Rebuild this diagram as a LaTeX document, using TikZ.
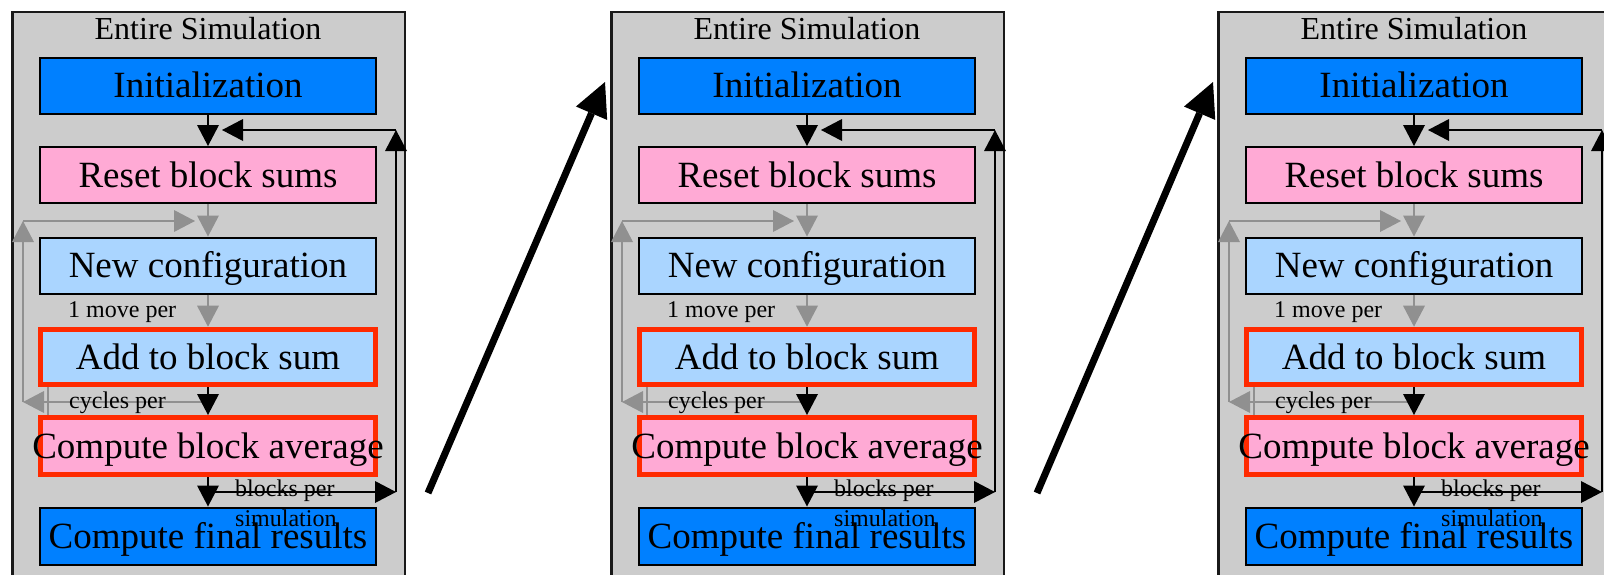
\documentclass[tikz,border=0pt]{standalone}
\usepackage{fontspec}
\setmainfont{Liberation Serif}
\usetikzlibrary{arrows.meta}
\definecolor{simgray}{HTML}{CCCCCC}
\definecolor{darkblue}{HTML}{0080FF}
\definecolor{pinkbox}{HTML}{FFAAD5}
\definecolor{lightblue}{HTML}{AAD5FF}
\definecolor{redframe}{HTML}{FF2A00}
\definecolor{arrowgray}{HTML}{909090}
\tikzset{
  panel/.style={draw=black!90, line width=2.5pt, fill=simgray, minimum width=392.7pt, minimum height=588pt, inner sep=0pt},
  stage/.style={draw=black, line width=2pt, minimum width=336pt, minimum height=56pt, inner sep=0pt,
    font=\fontsize{37}{40}\selectfont, text height=24.5pt, text depth=0pt},
  hot/.style={draw=redframe, line width=5pt, minimum width=335.6pt},
  titletext/.style={inner sep=0pt, font=\fontsize{32}{34}\selectfont},
  lbl/.style={inner sep=0pt, font=\fontsize{24}{26}\selectfont},
  flow/.style={draw=black, line width=2pt, -{Triangle[length=21pt,width=22pt,line width=0pt]}},
  grayflow/.style={draw=arrowgray, line width=2pt, -{Triangle[length=21pt,width=22pt,line width=0pt]}},
  grayline/.style={draw=arrowgray, line width=2pt},
  bigarrow/.style={draw=black, line width=7pt, -{Triangle[length=34pt,width=34pt,line width=0pt]}}
}
\begin{document}
\begin{tikzpicture}[x=1pt,y=-1pt]
\useasboundingbox (0,0) rectangle (1604,574);
\clip (0,0) rectangle (1604,574);
\foreach \p/\ox in {1/0,2/599,3/1206}{
\begin{scope}[xshift=\ox pt]
  \node[panel] (sim\p) at (208.6,306) {};
  \node[titletext, anchor=base] (title\p) at (208,39) {Entire Simulation};
  \node[stage, fill=darkblue] (init\p) at (208,85.5) {Initialization};
  \node[stage, fill=pinkbox] (reset\p) at (208,175) {Reset block sums};
  \node[stage, fill=lightblue] (conf\p) at (208,265.5) {New configuration};
  \node[stage, hot, fill=lightblue, minimum height=55.6pt] (add\p) at (208,357) {Add to block sum};
  \node[stage, hot, fill=pinkbox, minimum height=57pt] (avg\p) at (208,446) {\makebox[0pt]{Compute block average}};
  \node[stage, fill=darkblue, minimum height=57pt] (fin\p) at (208,536) {Compute final results};
  % coordinates of the loops
  \coordinate (gl\p) at (23,402);
  \coordinate (gc\p) at (23,221);
  \coordinate (gin\p) at (195,221);
  \coordinate (gs\p) at (48,387);
  \coordinate (ge\p) at (48,415);
  \coordinate (bs\p) at (215,492);
  \coordinate (be\p) at (396,492);
  \coordinate (lt\p) at (396,130);
  \coordinate (li\p) at (222,130);
  % gray edges
  \draw[grayflow] (reset\p.south) -- (conf\p.north);
  \draw[grayflow] (conf\p.south) -- (add\p.north);
  \draw[grayflow] (add\p.south) |- (gl\p);
  \draw[grayflow] (gl\p) -- (gc\p);
  \draw[grayflow] (gc\p) -- (gin\p);
  \draw[grayline] (gs\p) -- (ge\p);
  % black edges
  \draw[flow] (init\p.south) -- (reset\p.north);
  \draw[flow] (add\p.south) -- (avg\p.north);
  \draw[flow] (avg\p.south) -- (fin\p.north);
  \draw[flow] (bs\p) -- (be\p);
  \draw[flow] (be\p) -- (lt\p);
  \draw[flow] (lt\p) -- (li\p);
  % labels
  \node[lbl, anchor=base west] (mv\p) at (68,317) {1 move per};
  \node[lbl, anchor=base west] (cy\p) at (69,408) {cycles per};
  \node[lbl, anchor=base west] (bl\p) at (235,496) {blocks per};
  \node[lbl, anchor=base west] (sm\p) at (235,526) {simulation};
\end{scope}
}
\coordinate (a1s) at (428,493);
\coordinate (a1e) at (605,82);
\coordinate (a2s) at (1037,493);
\coordinate (a2e) at (1213,82);
\draw[bigarrow] (a1s) -- (a1e);
\draw[bigarrow] (a2s) -- (a2e);
\end{tikzpicture}
\end{document}
